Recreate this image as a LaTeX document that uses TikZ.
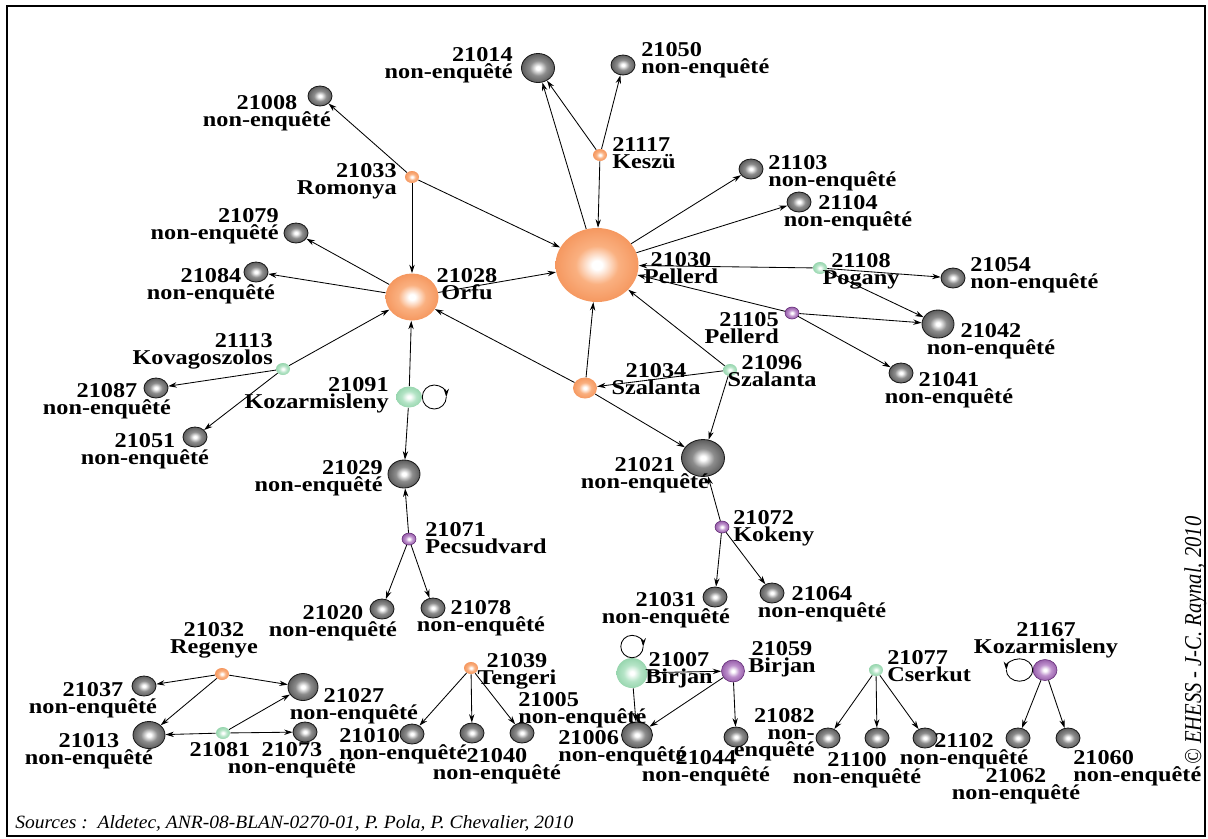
\documentclass[tikz,border=0pt]{standalone}
\usepackage{fontspec}
\usepackage{graphicx}
\usetikzlibrary{arrows.meta,shapes.geometric}
\newfontfamily\lblfont[FakeStretch=1.15]{Liberation Serif}
\newfontfamily\srcfont{Liberation Serif}
\definecolor{orangeL}{RGB}{250,176,128}
\definecolor{orangeM}{RGB}{244,146,88}
\definecolor{orangeD}{RGB}{234,120,58}
\definecolor{greenL}{RGB}{180,228,198}
\definecolor{greenM}{RGB}{140,208,165}
\definecolor{greenD}{RGB}{104,184,134}
\definecolor{purpleL}{RGB}{190,145,205}
\definecolor{purpleM}{RGB}{136,76,156}
\definecolor{purpleD}{RGB}{96,40,116}
\pgfdeclareradialshading{ballgrey}{\pgfpoint{0bp}{0bp}}{color(0bp)=(white); color(3bp)=(white); color(13bp)=(black!45); color(28bp)=(black!68); color(42bp)=(black!85); color(50bp)=(black!94); color(100bp)=(black!94)}
\pgfdeclareradialshading{ballorange}{\pgfpoint{0bp}{0bp}}{color(0bp)=(white); color(3bp)=(white); color(13bp)=(orangeL); color(28bp)=(orangeM); color(50bp)=(orangeD); color(100bp)=(orangeD)}
\pgfdeclareradialshading{ballgreen}{\pgfpoint{0bp}{0bp}}{color(0bp)=(white); color(3bp)=(white); color(14bp)=(greenL); color(30bp)=(greenM); color(50bp)=(greenD); color(100bp)=(greenD)}
\pgfdeclareradialshading{ballpurple}{\pgfpoint{0bp}{0bp}}{color(0bp)=(white); color(3bp)=(white); color(13bp)=(purpleL); color(30bp)=(purpleM); color(50bp)=(purpleD); color(100bp)=(purpleD)}

\begin{document}
\begin{tikzpicture}[x=0.025cm, y=-0.025cm,
	ball/.style={ellipse, inner sep=0pt, shade},
	ne/.style={ball, shading=ballgrey, draw=black!90, line width=0.6pt},
	arr/.style={-{Stealth[length=6pt,width=3.8pt]}, line width=0.6pt},
	lbl/.style={font=\lblfont\bfseries\fontsize{15}{12.3}\selectfont, inner sep=0pt, align=center, anchor=north},
	lbll/.style={lbl, align=left, anchor=north west},
	lblr/.style={lbl, align=right, anchor=north east}]
\useasboundingbox (0,0) rectangle (1208,838);
\draw[line width=1.4pt] (7,6) rectangle (1205,836);

% villages enquetes
\foreach \id/\x/\y/\w/\h in {21030/597/265/83/74, 21028/412/297/53/47, 21034/585/388/24/21, 21033/412/177/14/12, 21117/600/155/14/12, 21032/222/674/14/12, 21039/471/668/14/12}
	\node[ball, shading=ballorange, minimum width=\w*0.025cm, minimum height=\h*0.025cm] (n\id) at (\x,\y) {};
\foreach \id/\x/\y/\w/\h in {21007/632/673/31/30, 21091/409/397/26/21, 21108/820/268/14/12, 21096/730/370/14/12, 21113/283/369/14/12, 21081/223/733/14/12, 21077/876/670/14/12}
	\node[ball, shading=ballgreen, minimum width=\w*0.025cm, minimum height=\h*0.025cm] (n\id) at (\x,\y) {};
\foreach \id/\x/\y/\w/\h in {21059/733/671/23/22, 21167/1045/670/24/21, 21105/792/313/14/12, 21071/409/539/14/12, 21072/722/527/14/12}
	\node[ball, shading=ballpurple, draw=purpleD, line width=0.4pt, minimum width=\w*0.025cm, minimum height=\h*0.025cm] (n\id) at (\x,\y) {};

% non-enquetes
\foreach \id/\x/\y/\w/\h in {21014/538/68/33/29, 21021/703/458/43/37, 21042/938/324/32/28, 21029/404/474/32/28, 21006/637/735/31/26, 21013/149/735/32/27, 21027/303/687/30/27}
	\node[ne, minimum width=\w*0.025cm, minimum height=\h*0.025cm] (n\id) at (\x,\y) {};
\foreach \id/\x/\y in {21050/623/65, 21008/320/96, 21103/751/169, 21104/799/202, 21054/953/278, 21041/901/373, 21079/296/233, 21084/256/272, 21087/156/388, 21051/195/437, 21020/382/609, 21078/433/608, 21031/715/597, 21064/772/593, 21037/144/686, 21073/305/732, 21010/412/734, 21040/472/733, 21005/522/733, 21044/736/737, 21082/828/738, 21100/877/738, 21102/925/738, 21062/1018/738, 21060/1068/738}
	\node[ne, minimum width=24*0.025cm, minimum height=20*0.025cm] (n\id) at (\x,\y) {};

% liens
\foreach \a/\b in {21030/21014, 21117/21014, 21117/21050, 21117/21030, 21033/21008, 21033/21030, 21033/21028,
	21030/21103, 21030/21104, 21108/21030, 21108/21054, 21108/21042, 21105/21030, 21105/21042, 21105/21041,
	21028/21030, 21028/21079, 21028/21084, 21113/21028, 21113/21087, 21113/21051, 21091/21028, 21091/21029,
	21034/21028, 21034/21030, 21034/21021, 21096/21034, 21096/21030, 21096/21021, 21071/21029, 21071/21020,
	21071/21078, 21072/21021, 21072/21031, 21072/21064, 21032/21037, 21032/21027, 21032/21013, 21081/21013,
	21081/21027, 21081/21073, 21039/21010, 21039/21040, 21039/21005, 21007/21059, 21007/21006, 21059/21006,
	21059/21044, 21077/21082, 21077/21100, 21077/21102, 21167/21062, 21167/21060}
	\draw[arr] (n\a) -- (n\b);

% boucles
\draw[arr] (n21091.east) arc[start angle=180, end angle=0, radius=0.3cm];
\draw[line width=0.6pt] (n21091.east) arc[start angle=180, end angle=360, radius=0.3cm];
\draw[arr] (n21007.north) arc[start angle=270, end angle=0, radius=0.28cm];
\draw[line width=0.6pt] (n21007.north) arc[start angle=270, end angle=360, radius=0.28cm];
\draw[arr] (n21167.west) arc[start angle=0, end angle=180, x radius=0.33cm, y radius=0.28cm];
\draw[line width=0.6pt] (n21167.west) arc[start angle=0, end angle=-180, x radius=0.33cm, y radius=0.28cm];

% etiquettes
\foreach \id/\x/\y in {21008/267/95, 21104/848/195, 21084/211/268, 21042/991/323, 21041/949/372, 21087/107/383, 21051/145/433, 21021/645/457, 21031/666/592, 21064/822/586, 21020/333/605, 21078/481/600, 21037/93/682, 21027/354/688, 21013/89/733, 21102/964/733, 21073/292/742, 21040/497/748, 21044/706/750, 21100/857/752, 21062/1016/768}
	\node[lbl] (l\id) at (\x,\y) {\id\\non-enquêté};
\foreach \id/\x/\y in {21050/641/42, 21103/768/155, 21054/970/257, 21005/518/692, 21010/339/728, 21006/558/730, 21060/1073/750}
	\node[lbll] (l\id) at (\x,\y) {\id\\non-enquêté};
\foreach \id/\x/\y in {21014/513/47, 21079/279/208, 21029/383/460}
	\node[lblr] (l\id) at (\x,\y) {\id\\non-enquêté};
\foreach \id/\x/\y/\nm in {21030/681/252/Pellerd, 21028/467/268/Orfu, 21108/861/253/Pogany, 21096/772/355/Szalanta, 21034/656/363/Szalanta, 21032/214/622/Regenye, 21167/1046/622/Kozarmisleny, 21059/782/641/Birjan, 21039/517/653/Tengeri, 21007/679/652/Birjan}
	\node[lbl] (l\id) at (\x,\y) {\id\\\nm};
\foreach \id/\x/\y/\nm in {21117/612/137/Keszü, 21072/733/510/Kokeny, 21071/425/522/Pecsudvard, 21077/887/650/Cserkut}
	\node[lbll] (l\id) at (\x,\y) {\id\\\nm};
\foreach \id/\x/\y/\nm in {21033/397/163/Romonya, 21105/779/312/Pellerd, 21113/273/333/Kovagoszolos, 21091/389/377/Kozarmisleny}
	\node[lblr] (l\id) at (\x,\y) {\id\\\nm};
\node[lbl] (l21081) at (220,742) {21081};
\node[lblr] (l21082) at (815,708) {21082\\non-\\enquêté};

\node[anchor=base west, inner sep=0pt] (src) at (15,828) {\resizebox{13.95cm}{0.325cm}{\srcfont\itshape Sources :\ \ Aldetec, ANR-08-BLAN-0270-01, P. Pola, P. Chevalier, 2010}};
\node[rotate=90, anchor=base west, inner sep=0pt] (copy) at (1201,765) {\resizebox{6.2cm}{0.42cm}{\srcfont\itshape\textcopyright{} EHESS - J-C. Raynal, 2010}};
\end{tikzpicture}
\end{document}
